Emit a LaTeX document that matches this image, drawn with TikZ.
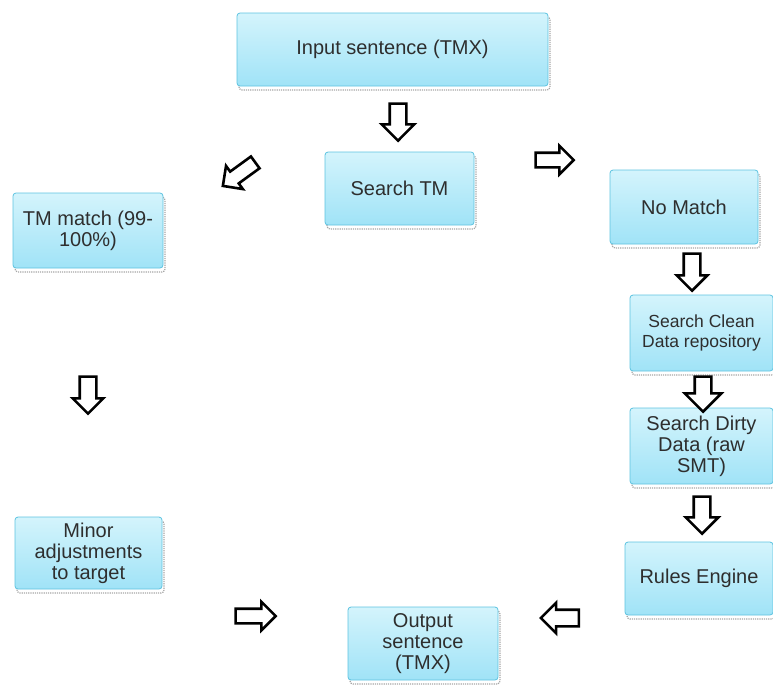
\documentclass[tikz,border=0pt]{standalone}
\usepackage{fontspec}
\setmainfont{Liberation Sans}
\usetikzlibrary{shapes.arrows,shadows}
\definecolor{boxtop}{HTML}{D4F4FC}
\definecolor{boxbot}{HTML}{A0E3F7}
\definecolor{boxline}{HTML}{5DC3E0}
\definecolor{txt}{HTML}{2E2E2E}
\tikzset{
  box/.style={rectangle, rounded corners=3pt, draw=boxline, line width=0.8pt,
    top color=boxtop, bottom color=boxbot, align=center, text=txt,
    font=\fontsize{20}{21}\selectfont, inner sep=2pt,
    drop shadow={fill=none, draw=gray!70, densely dotted, line width=1.2pt,
      opacity=1, shadow xshift=2pt, shadow yshift=-4pt}},
  barrow/.style={single arrow, draw=black, line width=2.6pt, fill=white,
    inner xsep=0pt, inner ysep=7pt, single arrow head extend=7pt,
    minimum width=0pt, minimum height=37pt},
  varrow/.style={barrow, shape border rotate=270, inner xsep=7pt, inner ysep=0pt}
}
\begin{document}
\begin{tikzpicture}[x=1pt,y=-1pt]
\useasboundingbox (0,0) rectangle (773,686);
% boxes
\node[box, minimum width=311pt, minimum height=73pt] (input) at (392.5,49.5) {Input sentence (TMX)};
\node[box, minimum width=149pt, minimum height=73pt] (search) at (399.5,188.5) {Search TM};
\node[box, minimum width=150pt, minimum height=75pt] (tmm) at (88,230.5) {TM match (99-\\100\%)};
\node[box, minimum width=148pt, minimum height=74pt] (nom) at (684,207) {No Match};
\node[box, minimum width=143pt, minimum height=76pt, font=\fontsize{17.5}{20}\selectfont] (clean) at (701.5,333) {Search Clean\\Data repository};
\node[box, minimum width=143pt, minimum height=76pt] (dirty) at (701.5,446) {Search Dirty\\Data (raw\\SMT)};
\node[box, minimum width=148pt, minimum height=73pt] (rules) at (699,578.5) {Rules Engine};
\node[box, minimum width=147pt, minimum height=72pt] (minor) at (88.5,553) {Minor\\adjustments\\to target};
\node[box, minimum width=150pt, minimum height=73pt] (out) at (423,643.5) {Output\\sentence\\(TMX)};
% block arrows
\node[varrow, single arrow head extend=8pt] (a1) at (398,118) {};
\node[barrow, rotate=216, minimum height=40pt, inner ysep=6pt] (a2) at (242,172) {};
\node[barrow, minimum height=38pt, inner ysep=6pt] (a3) at (551,160) {};
\node[varrow] (a4) at (692,268) {};
\node[varrow, minimum height=35pt, single arrow head extend=10pt] (a5) at (703,390) {};
\node[varrow, single arrow head extend=8pt] (a6) at (702,511) {};
\node[varrow] (a7) at (88,391) {};
\node[barrow, minimum height=40pt, inner ysep=6pt] (a8) at (252,616) {};
\node[barrow, shape border rotate=180, minimum height=38pt] (a9) at (564,618) {};
\end{tikzpicture}
\end{document}
